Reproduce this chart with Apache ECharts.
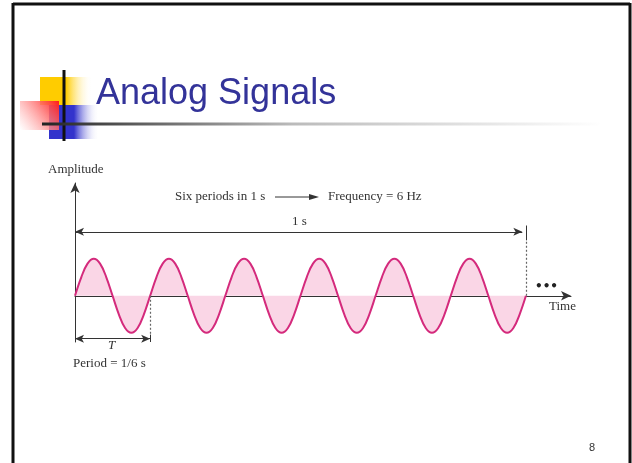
<!DOCTYPE html>
<html>
<head>
<meta charset="utf-8">
<script src="https://cdn.jsdelivr.net/npm/echarts@6/dist/echarts.min.js"></script>
<style>
  html, body { margin: 0; padding: 0; background: #fff; }
  #main { width: 632px; height: 463px; }
</style>
</head>
<body>
<div id="main"></div>
<script>
// 正弦波数据：每 1/12 周期取一点，共 6 个周期（1 s）
var amplitude = [
  0, 0.5, 0.87, 1, 0.87, 0.5, 0, -0.5, -0.87, -1, -0.87, -0.5,
  0, 0.5, 0.87, 1, 0.87, 0.5, 0, -0.5, -0.87, -1, -0.87, -0.5,
  0, 0.5, 0.87, 1, 0.87, 0.5, 0, -0.5, -0.87, -1, -0.87, -0.5,
  0, 0.5, 0.87, 1, 0.87, 0.5, 0, -0.5, -0.87, -1, -0.87, -0.5,
  0, 0.5, 0.87, 1, 0.87, 0.5, 0, -0.5, -0.87, -1, -0.87, -0.5,
  0, 0.5, 0.87, 1, 0.87, 0.5, 0, -0.5, -0.87, -1, -0.87, -0.5,
  0
];
var totalTime = 1;       // 1 s
var period = 1 / 6;      // T
var texts = {
  title: 'Analog Signals',
  yName: 'Amplitude',
  xName: 'Time',
  note: 'Six periods in 1 s',
  freq: 'Frequency = 6 Hz',
  oneSec: '1 s',
  T: 'T',
  periodLabel: 'Period = 1/6 s',
  page: '8'
};

var points = amplitude.map(function(v, i) {
  return [i * totalTime / (amplitude.length - 1), v];
});

var chart = echarts.init(document.getElementById('main'));

var annotate = { color: '#333', width: 1, type: 'solid' };
var dotted = { color: '#666', width: 1.2, type: [2, 2] };
var serif = '13px "Liberation Serif", serif';

var option = {
  animation: false,
  grid: { left: 75, right: 61, top: 183, height: 159 },
  xAxis: {
    type: 'value', min: 0, max: 1.1,
    axisLine: { onZero: true, symbol: ['none', 'arrow'], symbolSize: [7, 10],
      lineStyle: { color: '#333', width: 1 } },
    axisTick: { show: false }, axisLabel: { show: false }, splitLine: { show: false }
  },
  yAxis: {
    type: 'value', min: -1.25, max: 3.05,
    axisLine: { show: true, symbol: ['none', 'arrow'], symbolSize: [7, 10],
      lineStyle: { color: '#333', width: 1 } },
    axisTick: { show: false }, axisLabel: { show: false }, splitLine: { show: false }
  },
  series: [{
    type: 'line',
    data: points,
    smooth: 0.4,
    showSymbol: false,
    lineStyle: { color: '#d42a7c', width: 2 },
    areaStyle: { color: '#fad6e6', opacity: 1 },
    z: 3,
    markLine: {
      silent: true,
      label: { show: false },
      symbol: ['none', 'none'],
      data: [
        // 1 s 双箭头
        [{ coord: [0, 1.73], symbol: 'arrow', symbolSize: [6, 9], lineStyle: annotate },
         { coord: [totalTime - 0.008, 1.73], symbol: 'arrow', symbolSize: [6, 9] }],
        [{ coord: [totalTime, 1.5], lineStyle: annotate }, { coord: [totalTime, 1.9] }],
        [{ coord: [totalTime, 0], lineStyle: dotted }, { coord: [totalTime, 1.5] }],
        // 周期 T 双箭头
        [{ coord: [0, -1.16], symbol: 'arrow', symbolSize: [6, 9], lineStyle: annotate },
         { coord: [period, -1.16], symbol: 'arrow', symbolSize: [6, 9] }],
        [{ coord: [period, -1.05], lineStyle: annotate }, { coord: [period, -1.25] }],
        [{ coord: [period, 0], lineStyle: dotted }, { coord: [period, -1.05] }]
      ]
    }
  }],
  graphic: [
    // 幻灯片边框
    { type: 'line', shape: { x1: 13, y1: 4, x2: 630, y2: 4 }, style: { stroke: '#111', lineWidth: 3 } },
    { type: 'line', shape: { x1: 13, y1: 3, x2: 13, y2: 463 }, style: { stroke: '#111', lineWidth: 3 } },
    { type: 'line', shape: { x1: 630, y1: 3, x2: 630, y2: 463 }, style: { stroke: '#111', lineWidth: 3 } },
    // 标题装饰方块
    { type: 'rect', shape: { x: 40, y: 77, width: 52, height: 28 },
      style: { fill: new echarts.graphic.LinearGradient(0, 0, 1, 0, [
        { offset: 0, color: '#ffcc00' }, { offset: 0.5, color: '#ffcc00' }, { offset: 1, color: 'rgba(255,255,255,0)' }]) } },
    { type: 'rect', shape: { x: 49, y: 105, width: 50, height: 34 },
      style: { fill: new echarts.graphic.LinearGradient(0, 0, 1, 0, [
        { offset: 0, color: '#3333cc' }, { offset: 0.5, color: '#3333cc' }, { offset: 1, color: 'rgba(255,255,255,0)' }]) } },
    { type: 'rect', shape: { x: 20, y: 101, width: 39, height: 29 },
      style: { fill: new echarts.graphic.LinearGradient(1, 0, 0, 1, [
        { offset: 0, color: '#ff1a1a' }, { offset: 1, color: 'rgba(255,255,255,0.6)' }]) } },
    { type: 'line', shape: { x1: 64, y1: 70, x2: 64, y2: 141 }, style: { stroke: '#111', lineWidth: 3 } },
    { type: 'line', shape: { x1: 42, y1: 124, x2: 600, y2: 124 },
      style: { lineWidth: 3, stroke: new echarts.graphic.LinearGradient(0, 0, 1, 0, [
        { offset: 0, color: '#222' }, { offset: 0.45, color: '#bbb' }, { offset: 1, color: '#fff' }]) } },
    { type: 'text', left: 96, top: 76,
      style: { text: texts.title, fill: '#333399', font: '36px "Liberation Sans", Arial, sans-serif' } },
    // 图中注释文字
    { type: 'text', left: 48, top: 163, style: { text: texts.yName, fill: '#333', font: serif } },
    { type: 'text', left: 175, top: 190, style: { text: texts.note, fill: '#333', font: serif } },
    { type: 'line', shape: { x1: 275, y1: 197, x2: 314, y2: 197 }, style: { stroke: '#333', lineWidth: 1 } },
    { type: 'polygon', shape: { points: [[319, 197], [309, 194], [309, 200]] }, style: { fill: '#333' } },
    { type: 'text', left: 328, top: 190, style: { text: texts.freq, fill: '#333', font: serif } },
    { type: 'text', left: 292, top: 215, style: { text: texts.oneSec, fill: '#333', font: serif } },
    { type: 'text', left: 535, top: 281,
      style: { text: '\u2022\u2022\u2022', fill: '#222', font: 'bold 12px "DejaVu Sans", sans-serif' } },
    { type: 'text', left: 549, top: 300, style: { text: texts.xName, fill: '#333', font: serif } },
    { type: 'text', left: 108, top: 339, style: { text: texts.T, fill: '#333', font: 'italic ' + serif } },
    { type: 'text', left: 73, top: 357, style: { text: texts.periodLabel, fill: '#333', font: serif } },
    { type: 'text', left: 589, top: 442,
      style: { text: texts.page, fill: '#333', font: '11px "Liberation Sans", Arial, sans-serif' } }
  ]
};

chart.setOption(option);
</script>
</body>
</html>
